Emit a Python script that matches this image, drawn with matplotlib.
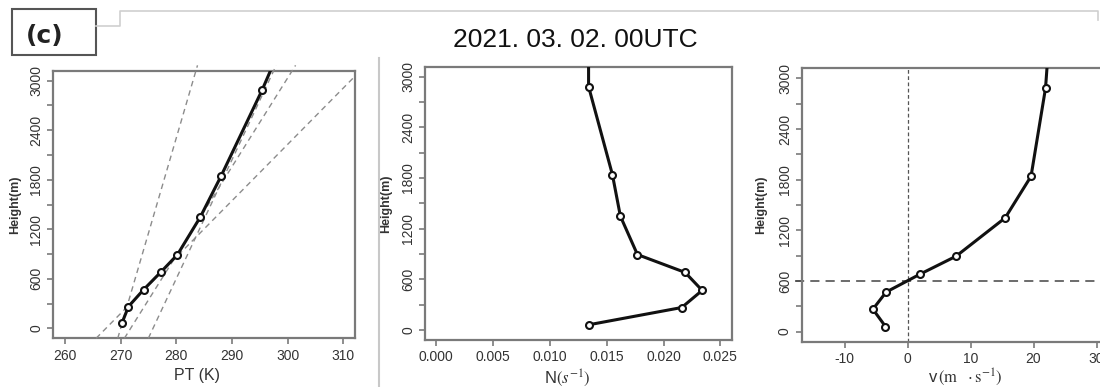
import matplotlib
matplotlib.use('Agg')
import matplotlib.pyplot as plt
from matplotlib import font_manager as fm
from matplotlib.lines import Line2D
from matplotlib.patches import Rectangle

# ---------------- data ----------------
height_m = [60, 265, 468, 681, 893, 1348, 1840, 2885, 3400]
pt_k = [270.2, 271.4, 274.1, 277.2, 280.2, 284.3, 288.0, 295.4, 298.7]
n_s = [0.0134, 0.0216, 0.0234, 0.0219, 0.0177, 0.0162, 0.0155, 0.0134, 0.0134]
v_ms = [-3.5, -5.5, -3.4, 2.0, 7.7, 15.5, 19.6, 21.9, 22.4]

# reference (fitted) PT lines: PT = intercept + slope * height
ref_intercept_k = [269.99, 271.78, 275.80, 267.34]
ref_slope_k_per_m = [0.004335, 0.009304, 0.00695, 0.014655]

v_zero_line = 0
v_height_line_m = 600

pt_ticks = [260, 270, 280, 290, 300, 310]
n_ticks = [0.000, 0.005, 0.010, 0.015, 0.020, 0.025]
n_ticklabels = ['0.000', '0.005', '0.010', '0.015', '0.020', '0.025']
v_ticks = [-10, 0, 10, 20, 30]
height_ticks = list(range(0, 3001, 300))

title_text = '2021. 03. 02. 00UTC'
panel_tag = '(c)'

# ---------------- fonts ----------------
names = {f.name for f in fm.fontManager.ttflist}
SANS = 'Liberation Sans' if 'Liberation Sans' in names else 'DejaVu Sans'
plt.rcParams['font.family'] = [SANS, 'DejaVu Sans']
plt.rcParams['mathtext.fontset'] = 'stix'

W, H = 1100, 387
fig = plt.figure(figsize=(W / 100, H / 100), dpi=100)
fig.patch.set_facecolor('white')


def fx(x):
    return x / W


def fy(y):
    return 1 - y / H


FRAME = '#7a7a7a'
TICKLAB = '#333333'


def make_axes(l, t, r, b):
    return fig.add_axes([fx(l), fy(b), fx(r) - fx(l), fy(t) - fy(b)])


def style(ax, xlim, xticks, xticklabels, ylab_x):
    ax.set_xlim(*xlim)
    ax.set_ylim(-120, 3120)
    ax.set_xticks(xticks)
    ax.set_xticklabels(xticklabels)
    ax.set_yticks(height_ticks)
    ax.set_yticklabels([str(h) if h % 600 == 0 else '' for h in height_ticks])
    for sp in ax.spines.values():
        sp.set_color(FRAME)
        sp.set_linewidth(1.6)
    ax.tick_params(direction='out', length=4.5, width=1.2, color=FRAME,
                   labelsize=10, labelcolor=TICKLAB, pad=3)
    ax.tick_params(axis='y', labelrotation=90, pad=2.5)
    for t in ax.get_yticklabels():
        t.set_va('center')
    ax.set_ylabel('Height(m)', fontsize=9, fontweight='bold', color='#333333')
    ax.yaxis.set_label_coords(ylab_x, 0.5)


def profile(ax, x):
    ax.plot(x, height_m, color='#111111', lw=2.2, marker='o', ms=5,
            mfc='white', mec='#111111', mew=1.5, zorder=5)


# ---------------- panel 1 : PT ----------------
ax1 = make_axes(53, 70.7, 355, 338.3)
style(ax1, (257.84, 312.09), pt_ticks, [str(t) for t in pt_ticks], -0.107)
y_lo, y_hi = -120, 3185
for a, b in zip(ref_intercept_k, ref_slope_k_per_m):
    y_end = min(y_hi, (ax1.get_xlim()[1] - a) / b)
    ax1.plot([a + b * y_lo, a + b * y_end], [y_lo, y_end], ls=(0, (4, 3)),
             color='#8c8c8c', lw=1.0, clip_on=False, zorder=3)
profile(ax1, pt_k)
ax1.set_xlabel('PT (K)', fontsize=11.5, color='#333333')
ax1.xaxis.set_label_coords(0.476, -0.112)

# ---------------- panel 2 : N ----------------
ax2 = make_axes(425, 66.7, 731.7, 340)
style(ax2, (-0.001, 0.026), n_ticks, n_ticklabels, -0.1086)
profile(ax2, n_s)
ax2.set_xlabel(r'N$(s^{-1})$', fontsize=12, color='#333333')
ax2.xaxis.set_label_coords(0.465, -0.1)

# ---------------- panel 3 : v ----------------
ax3 = make_axes(801.7, 68.3, 1107.9, 341.7)
style(ax3, (-16.8, 31.8), v_ticks, [str(t) for t in v_ticks], -0.112)
ax3.axvline(v_zero_line, ls=(0, (3, 2)), color='#555555', lw=0.9, zorder=2)
ax3.axhline(v_height_line_m, xmin=-0.022, xmax=1.0, ls=(0, (6, 4)),
            color='#444444', lw=1.1, clip_on=False, zorder=2)
profile(ax3, v_ms)
ax3.set_xlabel(r'v$\,(\mathrm{m}\ \ \cdot\mathrm{s}^{-1})$', fontsize=12,
               color='#333333')
ax3.xaxis.set_label_coords(0.534, -0.092)

# ---------------- header decoration ----------------
fig.add_artist(Rectangle((fx(12), fy(55)), fx(96) - fx(12), fy(9) - fy(55),
                         transform=fig.transFigure, fill=False, ec='#555555', lw=1.5))
fig.add_artist(Line2D([fx(96), fx(120), fx(120), fx(1098), fx(1098)],
                      [fy(26), fy(26), fy(10.7), fy(10.7), fy(20)],
                      transform=fig.transFigure, color='#cfcfcf', lw=1.2))
fig.add_artist(Line2D([fx(378.5), fx(378.5)], [fy(58), fy(387)],
                      transform=fig.transFigure, color='#c8c8c8', lw=1.5))
fig.text(fx(45), fy(35.5), panel_tag, ha='center', va='center', fontsize=18,
         fontweight='bold', color='#222222', family=['DejaVu Sans'])
fig.text(fx(575.3), fy(47), title_text, ha='center', va='baseline', fontsize=19,
         color='#111111')

fig.savefig('out.png', dpi=100, facecolor='white')
